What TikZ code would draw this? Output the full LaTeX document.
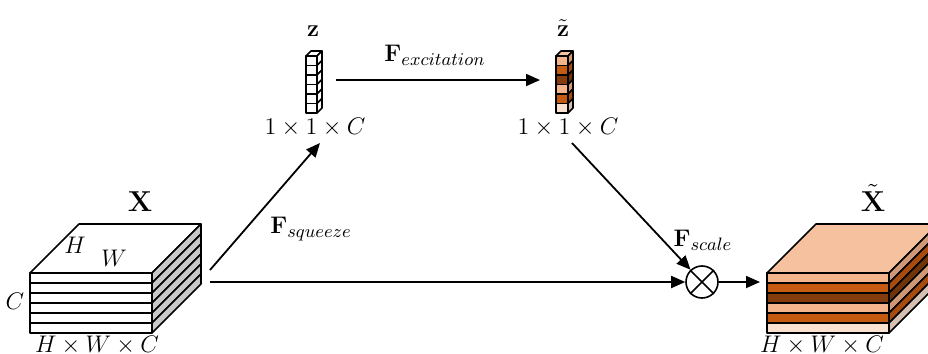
\documentclass[tikz,border=0pt]{standalone}
\usepackage{amsmath}
\usetikzlibrary{arrows.meta}
\definecolor{lo}{HTML}{F4B48C}
\definecolor{orn}{HTML}{C55A11}
\definecolor{brn}{HTML}{843C0C}
\definecolor{pal}{HTML}{FBE2D0}
\definecolor{topc}{HTML}{F5C19E}
\definecolor{sidegray}{HTML}{C8C8C8}
\tikzset{
  edge/.style={draw=black, line width=0.8pt, line join=round},
  conn/.style={line width=0.9pt, -{Triangle[length=7pt,width=6pt]}},
  lbl/.style={inner sep=0pt, font=\fontsize{12.5}{15}\selectfont},
  big/.style={inner sep=0pt, font=\fontsize{15}{18}\selectfont},
}
\begin{document}
\begin{tikzpicture}[x=0.5pt,y=-0.5pt]
\clip (0,0) rectangle (928,354);
\useasboundingbox (0,0) rectangle (928,354);
% ---------- left cube X ----------
\draw[edge, fill=white] (30,273) -- (79,224) -- (201,224) -- (152,273) -- cycle;
\foreach \i in {0,...,5}{
  \pgfmathsetmacro{\yy}{273+10*\i}
  \draw[edge, fill=sidegray] (152,\yy) -- ++(49,-49) -- ++(0,10) -- (152,\yy+10) -- cycle;
  \draw[edge, fill=white] (30,\yy) rectangle (152,\yy+10);
}
% ---------- right cube X tilde ----------
\draw[edge, fill=topc] (767,273) -- (816,224) -- (938,224) -- (889,273) -- cycle;
\foreach \c [count=\i from 0] in {lo,orn,brn,lo,orn,pal}{
  \pgfmathsetmacro{\yy}{273+10*\i}
  \draw[edge, fill=\c!85!black] (889,\yy) -- ++(49,-49) -- ++(0,10) -- (889,\yy+10) -- cycle;
  \draw[edge, fill=\c] (767,\yy) rectangle (889,\yy+10);
}
% ---------- column z ----------
\draw[edge, fill=white] (306,56) -- (311,51) -- (322,51) -- (317,56) -- cycle;
\foreach \i in {0,...,5}{
  \pgfmathsetmacro{\yy}{56+9.5*\i}
  \draw[edge, fill=white] (317,\yy) -- ++(5,-5) -- ++(0,9.5) -- (317,\yy+9.5) -- cycle;
  \draw[edge, fill=white] (306,\yy) rectangle (317,\yy+9.5);
}
% ---------- column z tilde ----------
\draw[edge, fill=topc] (556,56) -- (561,51) -- (573,51) -- (568,56) -- cycle;
\foreach \c [count=\i from 0] in {lo,orn,brn,lo,orn,pal}{
  \pgfmathsetmacro{\yy}{56+9.5*\i}
  \draw[edge, fill=\c!85!black] (568,\yy) -- ++(5,-5) -- ++(0,9.5) -- (568,\yy+9.5) -- cycle;
  \draw[edge, fill=\c] (556,\yy) rectangle (568,\yy+9.5);
}
% ---------- labels ----------
\node[big] (lX) at (140,202) {$\mathbf{X}$};
\node[big] (lXt) at (873,198) {$\tilde{\mathbf{X}}$};
\node[lbl] (lz) at (313,31) {$\mathbf{z}$};
\node[lbl] (lzt) at (563,28) {$\tilde{\mathbf{z}}$};
\node[lbl] (lH) at (75,245) {$H$};
\node[lbl] (lW) at (114,258) {$W$};
\node[lbl] (lC) at (15,301) {$C$};
\node[lbl] (dX) at (97,345) {$H\times W\times C$};
\node[lbl] (dXt) at (822,345) {$H\times W\times C$};
\node[lbl] (dz) at (315,127) {$1\times 1\times C$};
\node[lbl] (dzt) at (568,127) {$1\times 1\times C$};
\node[lbl] (fexc) at (435,55) {$\mathbf{F}_{excitation}$};
\node[lbl] (fsq) at (311,229) {$\mathbf{F}_{squeeze}$};
\node[lbl] (fsc) at (703,240) {$\mathbf{F}_{scale}$};
% ---------- connectors ----------
\node[draw, circle, line width=0.8pt, minimum size=16pt, inner sep=0pt] (m) at (702,282) {};
\draw[line width=0.8pt] (m.north west) -- (m.south east) (m.north east) -- (m.south west);
\coordinate (xout1) at (210,270);
\coordinate (zin) at (320,143);
\coordinate (zout) at (336,80);
\coordinate (ztin) at (540,80);
\coordinate (ztout) at (572,143);
\coordinate (xout2) at (210,282);
\coordinate (xtin) at (760,282);
\draw[conn] (xout1) -- (zin);
\draw[conn] (zout) -- (ztin);
\draw[conn] (ztout) -- (m);
\draw[conn] (xout2) -- (m);
\draw[conn] (m) -- (xtin);
\end{tikzpicture}
\end{document}
